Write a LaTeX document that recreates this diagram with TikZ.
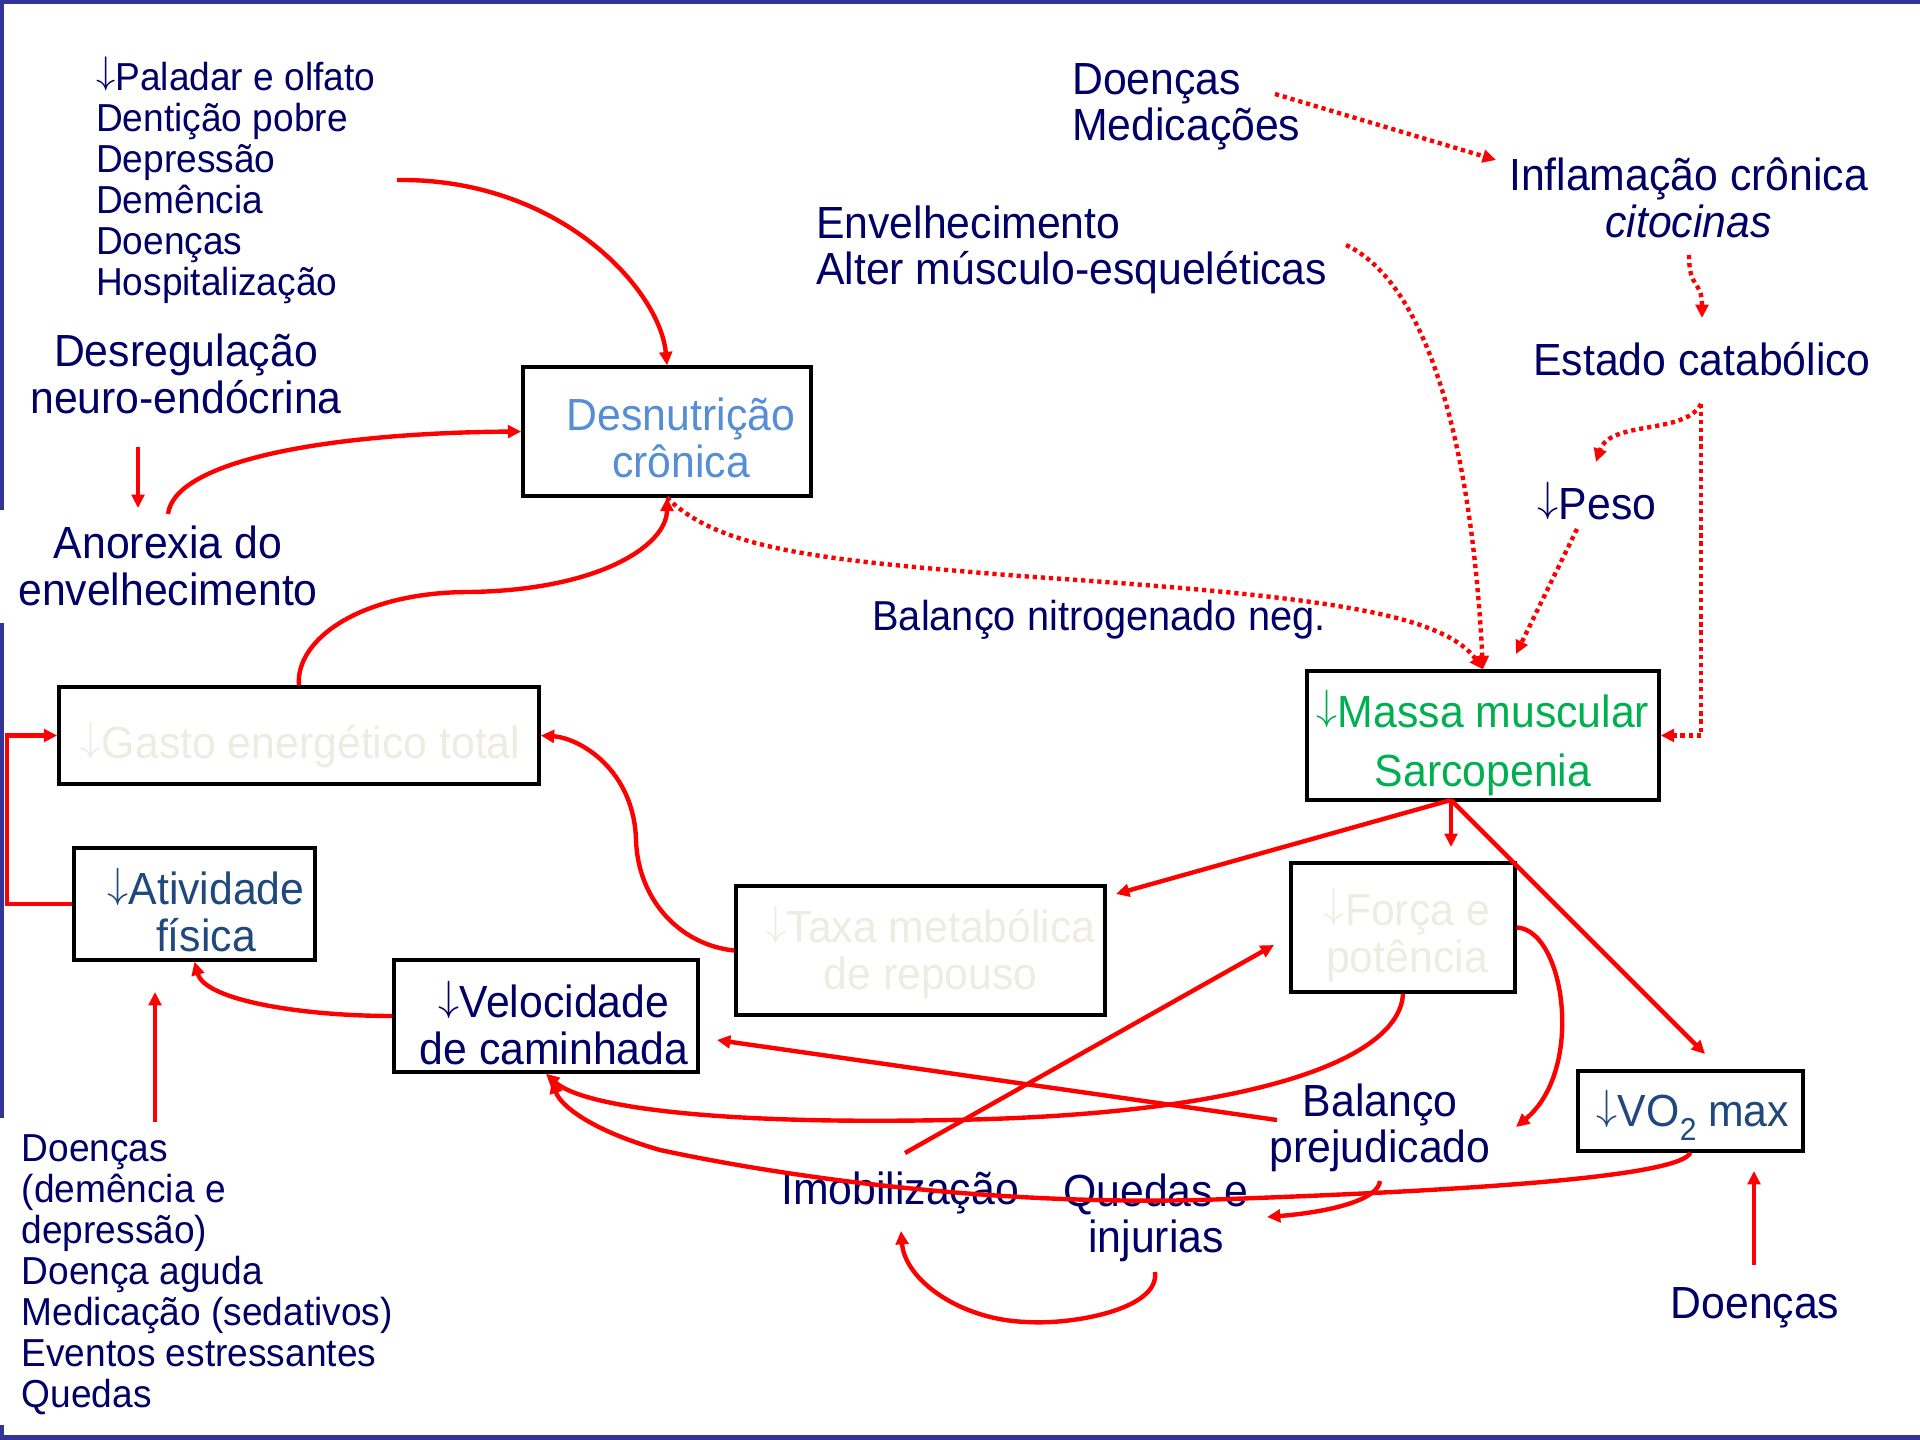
\documentclass[tikz,border=0pt]{standalone}
\usepackage{fontspec}
\setmainfont[FakeStretch=0.95]{Liberation Sans}
\usetikzlibrary{arrows.meta}
\definecolor{navy}{RGB}{0,0,102}
\definecolor{slateb}{RGB}{31,73,125}
\definecolor{lblue}{RGB}{85,142,213}
\definecolor{mgreen}{RGB}{0,176,80}
\definecolor{faint}{RGB}{238,236,225}
\definecolor{framec}{RGB}{51,51,153}
\newcommand{\dn}{\smash{\raisebox{0.17em}{\ensuremath{\downarrow}}}}
\begin{document}
\begin{tikzpicture}[x=0.01cm,y=-0.01cm,
  boxn/.style={draw=black,line width=0.95pt,inner sep=0pt},
  txt/.style={inner sep=0pt,align=center,text=navy,font=\fontsize{12.8}{13.2}\selectfont},
  stxt/.style={inner sep=0pt,align=left,text=navy,font=\fontsize{11.1}{11.66}\selectfont},
  arr/.style={draw=red,line width=1.25pt,-{Triangle[length=3.8pt,width=3.6pt]}},
  dotarr/.style={arr,dash pattern=on 1.2pt off 1.1pt}]
\useasboundingbox (0,0) rectangle (1920,1440);
% frame
\fill[framec] (0,0) rectangle (1920,4);
\fill[framec] (0,1435) rectangle (1920,1440);
\fill[framec] (0,0) rectangle (4,510);
\fill[framec] (0,623) rectangle (4,1118);
\fill[framec] (0,1425) rectangle (4,1440);
% boxes
\node[boxn,minimum width=2.88cm,minimum height=1.29cm] (desn) at (667,431.5) {};
\node[boxn,minimum width=3.52cm,minimum height=1.29cm] (massa) at (1483,735.5) {};
\node[boxn,minimum width=4.80cm,minimum height=0.97cm] (gasto) at (299,735.5) {};
\node[boxn,minimum width=2.41cm,minimum height=1.12cm] (ativ) at (194.5,904) {};
\node[boxn,minimum width=3.04cm,minimum height=1.12cm] (veloc) at (546,1016) {};
\node[boxn,minimum width=3.69cm,minimum height=1.29cm] (taxa) at (920.5,950.5) {};
\node[boxn,minimum width=2.24cm,minimum height=1.29cm] (forca) at (1403,927.5) {};
\node[boxn,minimum width=2.25cm,minimum height=0.80cm] (vo2) at (1690.5,1111) {};
% box texts
\node[txt,text=lblue] (desnT) at (681,438) {Desnutrição\\crônica};
\node[txt,text=mgreen,font=\fontsize{12.8}{16.8}\selectfont] (massaT) at (1483,745) {\dn Massa muscular\\Sarcopenia};
\node[txt,text=faint] (gastoT) at (300.6,747) {\dn Gasto energético total};
\node[txt,text=slateb] (ativT) at (206,912) {\dn Atividade\\física};
\node[txt] (velocT) at (554,1025) {\dn Velocidade\\de caminhada};
\node[txt,text=faint] (taxaT) at (930.6,954) {\dn Taxa metabólica\\de repouso};
\node[txt,text=faint] (forcaT) at (1407,938) {\dn Força e\\potência};
\node[txt,text=slateb] (vo2T) at (1693,1118) {\dn VO\raisebox{-0.3em}{\fontsize{9}{9}\selectfont 2} max};
% labels
\node[stxt,anchor=west] (list1) at (95.5,183) {\dn Paladar e olfato\\Dentição pobre\\Depressão\\Demência\\Doenças\\Hospitalização};
\node[txt] (desreg) at (186,374) {Desregulação\\neuro-endócrina};
\node[txt] (anorexia) at (168,566) {Anorexia do\\envelhecimento};
\node[txt,align=left,anchor=west] (doencasT) at (1071.5,107) {Doenças\\Medicações};
\node[txt] (inflam) at (1688.6,198) {Inflamação crônica\\\textit{citocinas}};
\node[txt] (estado) at (1702,359) {Estado catabólico};
\node[txt,align=left,anchor=west] (envelh) at (815.5,250) {Envelhecimento\\Alter músculo-esqueléticas};
\node[txt] (peso) at (1597,504) {\dn Peso};
\node[txt,font=\fontsize{11.9}{12.4}\selectfont] (balN) at (1099,620) {Balanço nitrogenado neg.};
\node[txt] (balanco) at (1380,1128) {Balanço\\prejudicado};
\node[txt] (imob) at (900,1193) {Imobilização};
\node[txt] (quedas) at (1156,1218) {Quedas e\\injurias};
\node[txt] (doencasBR) at (1755,1308) {Doenças};
\node[stxt,anchor=west] (list2) at (21,1275) {Doenças\\(demência e\\depressão)\\Doença aguda\\Medicação (sedativos)\\Eventos estressantes\\Quedas};
% coordinates
\coordinate (c1) at (397,180);
\coordinate (an1) at (168,514);
\coordinate (dr1) at (138,447);
\coordinate (dr2) at (138,508);
\coordinate (d1) at (1275,94);
\coordinate (d2) at (1496,160);
\coordinate (i1) at (1689,255);
\coordinate (i2) at (1702,318);
\coordinate (e1) at (1346,245);
\coordinate (s1) at (1701,404);
\coordinate (p1) at (1596,462);
\coordinate (p2) at (1577,529);
\coordinate (m2) at (1516,654);
\coordinate (l2) at (155,1122);
\coordinate (a2) at (155,992);
\coordinate (ms) at (1451,800);
\coordinate (t1) at (1116,894);
\coordinate (f1) at (1451,847);
\coordinate (v1) at (1705,1054);
\coordinate (im1) at (905,1153);
\coordinate (f2) at (1274,945);
\coordinate (b1) at (1277,1120);
\coordinate (ve1) at (717,1040);
\coordinate (vs2) at (552,1080);
\coordinate (b2) at (1516,1127);
\coordinate (b3) at (1380,1181);
\coordinate (q1) at (1267,1217);
\coordinate (q2) at (1155,1272);
\coordinate (im2) at (901,1231);
\coordinate (db1) at (1754,1265);
\coordinate (db2) at (1754,1171);
% connectors
\draw[arr] (c1) .. controls (560,178) and (660,290) .. (desn.north);
\draw[arr] (dr1) -- (dr2);
\draw[arr] (an1) .. controls (175,460) and (330,433) .. (desn.west);
\draw[arr] (gasto.north) .. controls (295,640) and (360,592) .. (470,592) .. controls (600,590) and (667,545) .. (desn.south);
\draw[dotarr] (desn.south) .. controls (720,550) and (820,560) .. (1020,576) .. controls (1300,595) and (1440,610) .. (massa.north);
\draw[dotarr] (d1) -- (d2);
\draw[dotarr] (i1) .. controls (1689,290) and (1702,280) .. (i2);
\draw[dotarr] (e1) .. controls (1420,280) and (1470,420) .. (massa.north);
\draw[dotarr] (s1) .. controls (1685,435) and (1610,420) .. (p1);
\draw[dotarr] (s1) |- (massa.east);
\draw[dotarr] (p2) -- (m2);
\draw[arr] (ativ.west) -- ++(-65,0) |- (gasto.west);
\draw[arr] (taxa.west) .. controls (680,945) and (638,900) .. (636,840) .. controls (634,770) and (580,738) .. (gasto.east);
\draw[arr] (veloc.west) .. controls (300,1016) and (205,1000) .. (ativ.south);
\draw[arr] (l2) -- (a2);
\draw[arr] (ms) -- (t1);
\draw[arr] (ms) -- (f1);
\draw[arr] (ms) -- (v1);
\draw[arr] (im1) -- (f2);
\draw[arr] (b1) -- (ve1);
\draw[arr] (forca.south) .. controls (1400,1060) and (1250,1115) .. (950,1120) .. controls (700,1125) and (580,1105) .. (veloc.south);
\draw[arr] (vo2.south) .. controls (1680,1175) and (1500,1190) .. (1200,1200) .. controls (1000,1205) and (800,1180) .. (660,1150) .. controls (590,1130) and (560,1105) .. (vs2);
\draw[arr] (forca.east) .. controls (1565,930) and (1585,1070) .. (b2);
\draw[arr] (b3) .. controls (1378,1200) and (1330,1212) .. (q1);
\draw[arr] (q2) .. controls (1160,1310) and (1070,1325) .. (1027,1322) .. controls (960,1320) and (905,1280) .. (im2);
\draw[arr] (db1) -- (db2);
\end{tikzpicture}
\end{document}
